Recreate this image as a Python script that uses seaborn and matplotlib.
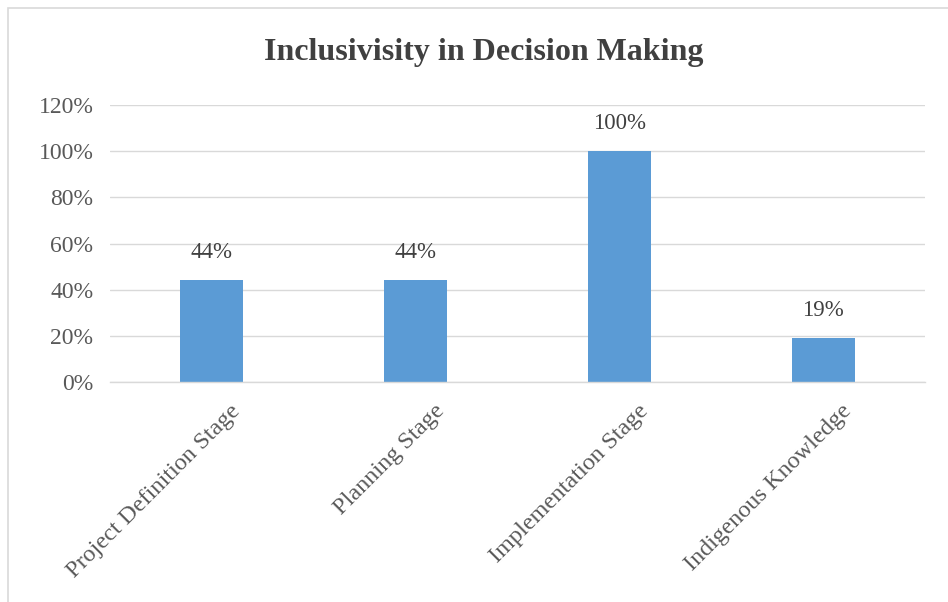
import matplotlib
matplotlib.use("Agg")
import matplotlib.pyplot as plt
import matplotlib.transforms as mtransforms
from matplotlib.patches import Rectangle
from matplotlib.ticker import FuncFormatter
import seaborn as sns
import pandas as pd

categories = ["Project Definition Stage", "Planning Stage",
              "Implementation Stage", "Indigenous Knowledge"]
values = [44, 44, 100, 19]
y_ticks = [0, 20, 40, 60, 80, 100, 120]

df = pd.DataFrame({"stage": categories, "share": values})

sns.set_theme(style="white")
plt.rcParams["font.family"] = ["Liberation Serif", "DejaVu Serif"]

fig = plt.figure(figsize=(9.48, 6.02), dpi=100)
ax = fig.add_axes([0.116, 0.3654, 0.86, 0.4602])

sns.barplot(data=df, x="stage", y="share", color="#5b9bd5",
            width=0.31, saturation=1, ax=ax, edgecolor="none")

ax.set_ylim(0, 120)
ax.set_xlim(-0.5, len(categories) - 0.5)
ax.set_yticks(y_ticks)
ax.yaxis.set_major_formatter(FuncFormatter(lambda v, _: f"{v:.0f}%"))
ax.grid(axis="y", color="#d9d9d9", linewidth=1)
ax.set_axisbelow(True)
for side in ["top", "right", "left"]:
    ax.spines[side].set_visible(False)
ax.spines["bottom"].set_color("#d9d9d9")
ax.spines["bottom"].set_linewidth(1)
ax.set_xlabel("")
ax.set_ylabel("")

ax.tick_params(axis="y", length=0, pad=12, labelsize=17, labelcolor="#595959")
ax.tick_params(axis="x", length=0, pad=2, labelsize=17.5, labelcolor="#595959")

shift = mtransforms.ScaledTranslation(18 / 100, -16 / 100, fig.dpi_scale_trans)
for lbl in ax.get_xticklabels():
    lbl.set_rotation(45)
    lbl.set_ha("right")
    lbl.set_va("top")
    lbl.set_rotation_mode("anchor")
    lbl.set_transform(lbl.get_transform() + shift)

for patch, v in zip(ax.patches, values):
    ax.annotate(f"{v}%", (patch.get_x() + patch.get_width() / 2, v),
                xytext=(0, 20), textcoords="offset points",
                ha="center", va="center", fontsize=16.5, color="#404040")

fig.text(0.51, 0.912, "Inclusivisity in Decision Making", ha="center",
         va="center", fontsize=23, fontweight="bold", color="#404040")

fig.patches.append(Rectangle((8 / 948, -0.1), 1.2, 1 - 8 / 602 + 0.1,
                             transform=fig.transFigure, fill=False,
                             edgecolor="#d9d9d9", linewidth=1.2))

fig.savefig("out.png", dpi=100)
